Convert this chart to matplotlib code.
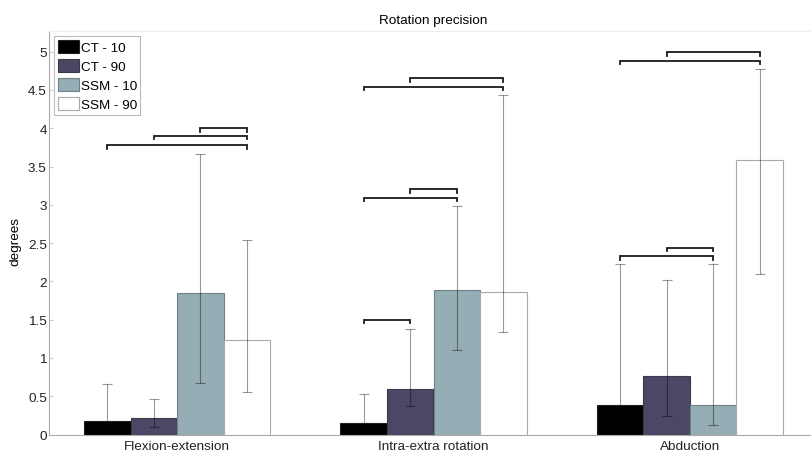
import numpy as np
import matplotlib.pyplot as plt

plt.rcParams['font.family'] = ['Liberation Sans', 'DejaVu Sans']
plt.rcParams['font.size'] = 9.7

categories = ['Flexion-extension', 'Intra-extra rotation', 'Abduction']
series = ['CT - 10', 'CT - 90', 'SSM - 10', 'SSM - 90']

# mean rotation error per category, one list per series
ct10 = [0.18, 0.15, 0.39]
ct90 = [0.21, 0.60, 0.77]
ssm10 = [1.85, 1.89, 0.39]
ssm90 = [1.23, 1.86, 3.59]

# lower / upper ends of the whiskers
ct10_lo = [0.18, 0.15, 0.39]
ct10_hi = [0.66, 0.53, 2.23]
ct90_lo = [0.10, 0.375, 0.245]
ct90_hi = [0.47, 1.375, 2.02]
ssm10_lo = [0.675, 1.11, 0.12]
ssm10_hi = [3.67, 2.99, 2.23]
ssm90_lo = [0.56, 1.345, 2.10]
ssm90_hi = [2.54, 4.43, 4.77]

# significance brackets: (category, bar a, bar b, height)
brackets = [(0, 2, 3, 4.00), (0, 1, 3, 3.90), (0, 0, 3, 3.78),
            (1, 1, 3, 4.65), (1, 0, 3, 4.54), (1, 1, 2, 3.20), (1, 0, 2, 3.09),
            (1, 0, 1, 1.495),
            (2, 1, 3, 4.99), (2, 0, 3, 4.88), (2, 1, 2, 2.44), (2, 0, 2, 2.33)]

means = [ct10, ct90, ssm10, ssm90]
lows = [ct10_lo, ct90_lo, ssm10_lo, ssm90_lo]
highs = [ct10_hi, ct90_hi, ssm10_hi, ssm90_hi]
colors = ['#000000', '#4a4864', '#95adb4', '#ffffff']
edges = ['#222222', '#3a3a4a', '#6f8086', '#aaaaaa']

fig = plt.figure(figsize=(8.11, 4.52), dpi=100)
ax = fig.add_axes([49 / 811, 16.5 / 452, 769 / 811, 403.5 / 452])

x = np.arange(1, len(categories) + 1)
w = 0.182
for k in range(4):
    xs = x + (k - 1.5) * w
    m = np.array(means[k])
    ax.bar(xs, m, width=w, color=colors[k], edgecolor=edges[k],
           linewidth=0.8, label=series[k], zorder=2)
    yerr = [m - np.array(lows[k]), np.array(highs[k]) - m]
    ax.errorbar(xs, m, yerr=yerr, fmt='none', ecolor='black', alpha=0.4,
                elinewidth=0.8, capsize=3.6, capthick=0.8,
                zorder=1 if k == 0 else 3)

drop = 0.045
for g, a, b, h in brackets:
    xa = x[g] + (a - 1.5) * w
    xb = x[g] + (b - 1.5) * w
    ax.plot([xa, xa, xb, xb], [h - drop, h, h, h - drop], color='#1a1a1a',
            lw=1.3, solid_joinstyle='miter', zorder=4)

ax.set_xlim(0.5, 3.5)
ax.set_ylim(0, 5.27)
ax.set_xticks(x)
ax.set_xticklabels(categories)
ax.set_yticks(np.arange(0, 5.01, 0.5))
ax.set_yticklabels(['0', '0.5', '1', '1.5', '2', '2.5', '3', '3.5', '4', '4.5', '5'])
ax.tick_params(axis='y', direction='in', length=3, color='#cccccc', pad=1.5,
               labelcolor='#222222')
ax.tick_params(axis='x', length=0, pad=4, labelcolor='#222222')
ax.set_ylabel('degrees')
ax.yaxis.set_label_coords(-0.036, 0.48)
ax.set_title('Rotation precision', fontsize=9.7, pad=6)

ax.spines['left'].set_color('#aaaaaa')
ax.spines['bottom'].set_color('#aaaaaa')
ax.spines['top'].set_color('#eeeeee')
ax.spines['right'].set_visible(False)

leg = ax.legend(loc='upper left', fancybox=False, framealpha=1,
                edgecolor='#bbbbbb', handlelength=1.55, handleheight=1.1,
                handletextpad=0.15, labelspacing=0.38, borderpad=0.25,
                borderaxespad=0.4)
leg.get_frame().set_linewidth(0.8)

plt.savefig('out.png')
